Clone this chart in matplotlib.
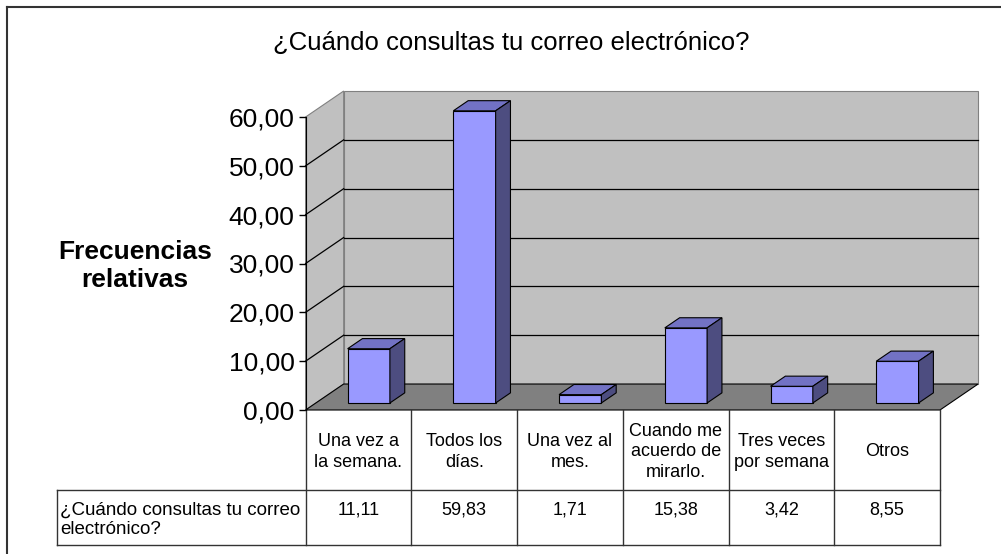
"""
Gráfico de columnas 3D (estilo Excel) con tabla de datos debajo.
"""

import matplotlib.pyplot as plt
from matplotlib.patches import Polygon
from matplotlib.lines import Line2D
from matplotlib.ticker import FuncFormatter
from matplotlib.transforms import blended_transform_factory

plt.rcParams["font.family"] = ["Liberation Sans", "DejaVu Sans"]

# ─────────────────────────────────────────────
# DATOS
# ─────────────────────────────────────────────
categorias = [
    "Una vez a\nla semana.",
    "Todos los\ndías.",
    "Una vez al\nmes.",
    "Cuando me\nacuerdo de\nmirarlo.",
    "Tres veces\npor semana",
    "Otros",
]
frecuencias = [11.11, 59.83, 1.71, 15.38, 3.42, 8.55]
ticks_y = [0, 10, 20, 30, 40, 50, 60]

titulo = "¿Cuándo consultas tu correo electrónico?"
etiqueta_y = "Frecuencias\nrelativas"
etiqueta_fila = "¿Cuándo consultas tu correo\nelectrónico?"

# ─────────────────────────────────────────────
# ESTILO / GEOMETRÍA
# ─────────────────────────────────────────────
W, H = 1001, 554
DX, DY = 0.36, 5.32      # vector de profundidad (unidades de datos)
F0, F1 = 0.27, 0.66      # cara delantera / trasera de las barras
ANCHO = 0.40

C_FRENTE = "#9999ff"
C_TECHO = "#7272c4"
C_LADO = "#4d4d80"
C_PARED = "#c0c0c0"
C_SUELO = "#808080"
C_TABLA = "#333333"


def fx(px):
    return px / W


def fy(py):
    return 1 - py / H


def proj(x, y, f):
    """Proyección oblicua: f=0 frente, f=1 fondo."""
    return (x + f * DX, y + f * DY)


def cara(ax, puntos, color, z, ec="black", lw=0.8):
    ax.add_patch(Polygon(puntos, closed=True, facecolor=color, edgecolor=ec,
                         lw=lw, zorder=z, clip_on=False, joinstyle="miter"))


def coma(v, _pos=None):
    return f"{v:.2f}".replace(".", ",")


# ─────────────────────────────────────────────
# FIGURA
# ─────────────────────────────────────────────
fig = plt.figure(figsize=(W / 100, H / 100), dpi=100)
ax = fig.add_axes([fx(305.6), fy(410), fx(940) - fx(305.6), fy(117) - fy(410)])

n = len(categorias)
ymax = ticks_y[-1]
ax.set_xlim(0, n)
ax.set_ylim(0, ymax)
ax.patch.set_visible(False)
for s in ["top", "right", "bottom"]:
    ax.spines[s].set_visible(False)
ax.spines["left"].set_zorder(6)
ax.set_xticks([])
ax.set_yticks(ticks_y)
ax.yaxis.set_major_formatter(FuncFormatter(coma))
ax.tick_params(axis="y", length=5, width=1, pad=3, labelsize=19)

# paredes y suelo
cara(ax, [proj(0, 0, 0), proj(0, 0, 1), proj(0, ymax, 1), proj(0, ymax, 0)],
     C_PARED, 1, ec="#808080")
cara(ax, [proj(0, 0, 1), proj(n, 0, 1), proj(n, ymax, 1), proj(0, ymax, 1)],
     C_PARED, 1, ec="#808080")
cara(ax, [proj(0, 0, 0), proj(n, 0, 0), proj(n, 0, 1), proj(0, 0, 1)],
     C_SUELO, 2, ec="black")

# líneas de cuadrícula (pared del fondo + diagonales de la pared izquierda)
for v in ticks_y[1:-1]:
    a, b = proj(0, v, 1), proj(n, v, 1)
    ax.plot([a[0], b[0]], [a[1], b[1]], color="black", lw=0.9, zorder=3, clip_on=False)
    c = proj(0, v, 0)
    ax.plot([c[0], a[0]], [c[1], a[1]], color="black", lw=0.9, zorder=3, clip_on=False)

# barras 3D
for i, v in enumerate(frecuencias):
    x0 = i + 0.5 - ANCHO / 2
    x1 = x0 + ANCHO
    cara(ax, [proj(x0, 0, F0), proj(x1, 0, F0), proj(x1, v, F0), proj(x0, v, F0)], C_FRENTE, 4)
    cara(ax, [proj(x0, v, F0), proj(x1, v, F0), proj(x1, v, F1), proj(x0, v, F1)], C_TECHO, 4)
    cara(ax, [proj(x1, 0, F0), proj(x1, 0, F1), proj(x1, v, F1), proj(x1, v, F0)], C_LADO, 4)

# ─────────────────────────────────────────────
# TABLA DE DATOS
# ─────────────────────────────────────────────
trans = blended_transform_factory(ax.transData, fig.transFigure)
x_izq = n * (57 - 305.6) / (940 - 305.6)

for k in range(n + 1):
    ax.plot([k, k], [fy(410), fy(545)], transform=trans, color=C_TABLA, lw=1, clip_on=False)
ax.plot([x_izq, x_izq], [fy(490), fy(545)], transform=trans, color=C_TABLA, lw=1, clip_on=False)
for py in (490, 545):
    ax.plot([x_izq, n], [fy(py), fy(py)], transform=trans, color=C_TABLA, lw=1, clip_on=False)

for i, (cat, v) in enumerate(zip(categorias, frecuencias)):
    ax.text(i + 0.5, fy(452), cat, transform=trans, ha="center", va="center",
            fontsize=13, linespacing=1.3)
    ax.text(i + 0.5, fy(510), coma(v), transform=trans, ha="center", va="center",
            fontsize=13)

ax.text(x_izq + 0.03, fy(520), etiqueta_fila, transform=trans, ha="left", va="center",
        fontsize=13.5, linespacing=1.15)

# ─────────────────────────────────────────────
# TEXTOS Y MARCO
# ─────────────────────────────────────────────
fig.text(fx(511), fy(43), titulo, ha="center", va="center", fontsize=18.5)
fig.text(fx(135), fy(266), etiqueta_y, ha="center", va="center", fontsize=19,
         fontweight="bold", linespacing=1.25)

fig.add_artist(Line2D([fx(7), 1], [fy(7), fy(7)], transform=fig.transFigure,
                      color="#333333", lw=1.5))
fig.add_artist(Line2D([fx(7), fx(7)], [fy(7), 0], transform=fig.transFigure,
                      color="#333333", lw=1.5))

fig.savefig("out.png", dpi=100)
